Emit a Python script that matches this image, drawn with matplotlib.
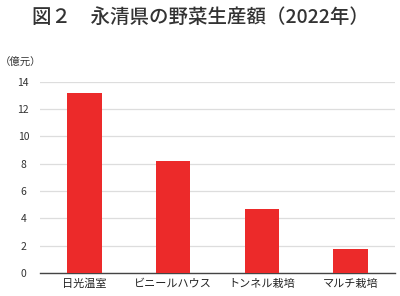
import matplotlib
matplotlib.use('Agg')
import matplotlib.pyplot as plt

plt.rcParams['font.family'] = ['Noto Sans CJK JP', 'DejaVu Sans']

# データ
categories = ['日光温室', 'ビニールハウス', 'トンネル栽培', 'マルチ栽培']
values = [13.2, 8.2, 4.7, 1.75]
yticks = [0, 2, 4, 6, 8, 10, 12, 14]

fig = plt.figure(figsize=(4, 2.96), dpi=100)
ax = fig.add_axes([0.1, 0.0777, 0.8875, 0.646])

ax.bar(range(len(categories)), values, width=0.39, color='#ec2a2a', zorder=3)

ax.set_xlim(-0.5, len(categories) - 0.5)
ax.set_ylim(0, 14)
ax.set_yticks(yticks)
ax.set_yticklabels([str(t) for t in yticks], fontsize=7.5, color='#333333')
ax.set_xticks(range(len(categories)))
ax.set_xticklabels(categories, fontsize=8, color='#222222')
ax.tick_params(length=0)
ax.tick_params(axis='y', pad=12)
ax.tick_params(axis='x', pad=4)
for lbl in ax.get_yticklabels():
    lbl.set_horizontalalignment('center')
ax.grid(axis='y', color='#dddddd', lw=0.9, zorder=0)
for s in ['top', 'right', 'left']:
    ax.spines[s].set_visible(False)
ax.spines['bottom'].set_color('#444444')
ax.spines['bottom'].set_linewidth(1.0)

fig.text(0.5, 0.94, '図２　永清県の野菜生産額（2022年）', ha='center', va='center',
         fontsize=14, fontweight='medium', color='#333333')
fig.text(0.0, 0.79, '（億元）', ha='left', va='center', fontsize=7.5, color='#333333')

fig.savefig('out.png', dpi=100, facecolor='white')
